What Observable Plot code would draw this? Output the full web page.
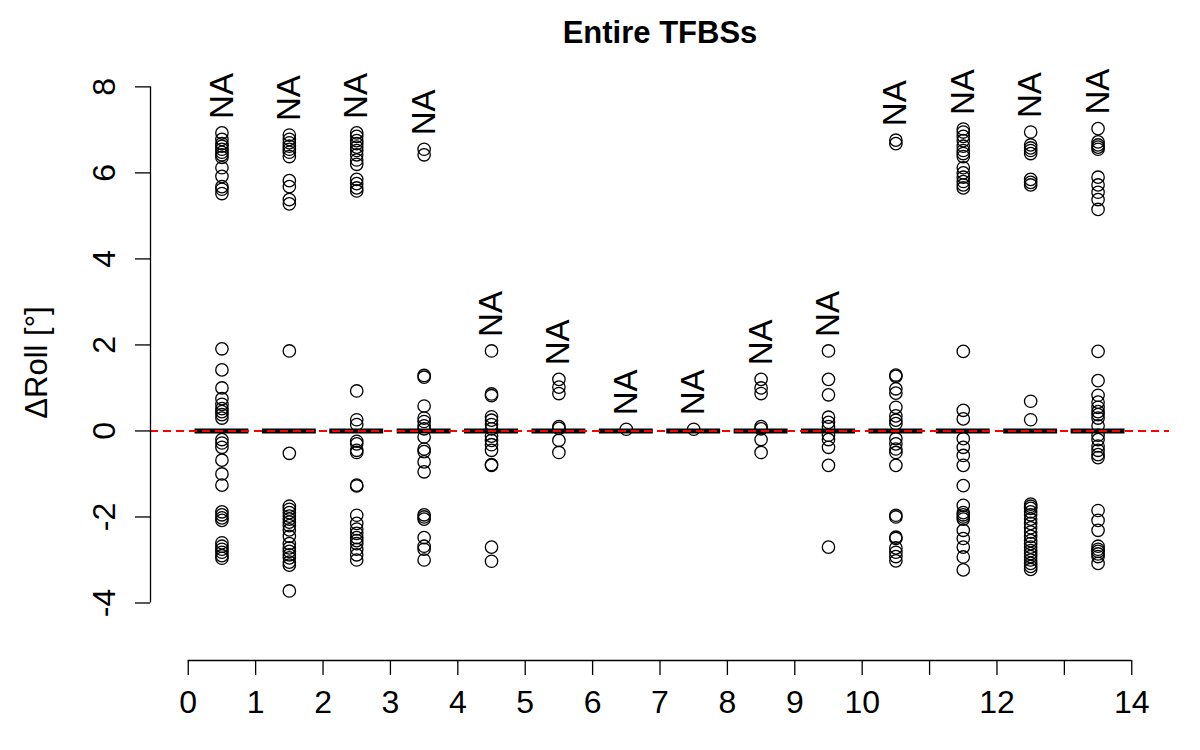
<!DOCTYPE html>
<html>
<head>
<meta charset="utf-8">
<script src="https://cdn.jsdelivr.net/npm/d3@7"></script>
<script src="https://cdn.jsdelivr.net/npm/@observablehq/plot@0.6"></script>
<style>
  html, body { margin: 0; padding: 0; background: #fff; }
  #chart { width: 1200px; height: 750px; }
</style>
</head>
<body>
<div id="chart"></div>
<script>
// ---- data ----
const title = "Entire TFBSs";
const yLabel = "ΔRoll [°]";
const groupPositions = [0.5, 1.5, 2.5, 3.5, 4.5, 5.5, 6.5, 7.5, 8.5, 9.5, 10.5, 11.5, 12.5, 13.5];
const medians = [0, 0, 0, 0, 0, 0, 0, 0, 0, 0, 0, 0, 0, 0];
const naLabels = ["NA", "NA", "NA", "NA", "NA", "NA", "NA", "NA", "NA", "NA", "NA", "NA", "NA", "NA"];
const outliers = [
  [6.93, 6.78, 6.68, 6.62, 6.55, 6.48, 6.42, 6.36, 6.12, 5.92, 5.68, 5.62, 5.52,
   1.91, 1.42, 1.0, 0.75, 0.62, 0.52, 0.45, 0.38, 0.3, -0.2, -0.28, -0.38, -0.68, -1.0, -1.26,
   -1.88, -1.95, -2.02, -2.08, -2.6, -2.68, -2.75, -2.82, -2.9, -2.96],
  [6.88, 6.78, 6.7, 6.62, 6.55, 6.48, 6.38, 5.82, 5.68, 5.38, 5.28,
   1.86, -0.52, -1.75, -1.82, -1.9, -1.98, -2.05, -2.12, -2.2, -2.3, -2.45, -2.62, -2.72, -2.8,
   -2.88, -2.95, -3.05, -3.12, -3.72],
  [6.93, 6.85, 6.75, 6.68, 6.6, 6.52, 6.42, 6.3, 6.2, 5.85, 5.75, 5.65, 5.58,
   0.93, 0.26, 0.15, -0.24, -0.3, -0.45, -0.5, -1.26, -1.28, -1.96, -2.15, -2.28, -2.38, -2.48,
   -2.55, -2.62, -2.75, -2.88, -3.0],
  [6.55, 6.42,
   1.29, 1.25, 0.58, 0.3, 0.22, 0.12, 0.05, -0.14, -0.42, -0.48, -0.72, -0.95, -1.95, -2.0, -2.05,
   -2.48, -2.68, -2.75, -3.0],
  [1.86, 0.86, 0.82, 0.33, 0.25, 0.15, 0.05, -0.12, -0.22, -0.32, -0.45, -0.78, -0.8, -2.7, -3.03],
  [1.2, 1.02, 0.87, 0.1, 0.06, -0.22, -0.5],
  [0.04],
  [0.04],
  [1.2, 1.0, 0.87, 0.1, 0.05, -0.2, -0.5],
  [1.86, 1.2, 0.84, 0.32, 0.2, 0.1, -0.1, -0.2, -0.38, -0.8, -2.7],
  [6.76, 6.68,
   1.3, 1.27, 0.98, 0.88, 0.55, 0.35, 0.25, 0.17, -0.18, -0.3, -0.42, -0.5, -0.8, -1.96, -2.0,
   -2.47, -2.5, -2.72, -2.82, -2.92, -3.02],
  [7.02, 6.95, 6.85, 6.75, 6.62, 6.52, 6.45, 6.38, 6.12, 6.0, 5.9, 5.8, 5.72, 5.65,
   1.85, 0.48, 0.28, -0.18, -0.38, -0.57, -0.8, -1.27, -1.73, -1.9, -1.95, -2.0, -2.05, -2.31,
   -2.5, -2.7, -2.93, -3.23],
  [6.95, 6.65, 6.58, 6.52, 6.45, 5.85, 5.78, 5.72,
   0.69, 0.26, -1.7, -1.75, -1.8, -1.88, -1.95, -2.05, -2.15, -2.25, -2.35, -2.45, -2.55, -2.62,
   -2.7, -2.78, -2.85, -2.92, -3.0, -3.08, -3.15, -3.22],
  [7.03, 6.72, 6.65, 6.6, 6.55, 5.9, 5.72, 5.55, 5.38, 5.15,
   1.85, 1.17, 0.83, 0.67, 0.55, 0.45, 0.38, 0.3, 0.12, -0.1, -0.2, -0.35, -0.45, -0.55, -0.62,
   -1.85, -2.08, -2.31, -2.68, -2.75, -2.8, -2.86, -2.92, -3.08]
];
const xTicks = [0, 1, 2, 3, 4, 5, 6, 7, 8, 9, 10, 11, 12, 13, 14];
const xTickLabels = ["0", "1", "2", "3", "4", "5", "6", "7", "8", "9", "10", "", "12", "", "14"];
const yTicks = [-4, -2, 0, 2, 4, 6, 8];

// ---- derived tables ----
const xDomain = [-0.56, 14.56];
const yDomain = [-5.337, 8.52];
const boxWidth = 0.8;
const dots = outliers.flatMap((vals, i) => vals.map(v => ({x: groupPositions[i], y: v})));
const groups = groupPositions.map((x, i) => ({
  x, median: medians[i], max: d3.max(outliers[i]), label: naLabels[i]
}));

const font = "'Liberation Sans', Arial, Helvetica, sans-serif";

const chart = Plot.plot({
  width: 1200,
  height: 750,
  marginLeft: 150,
  marginRight: 31,
  marginTop: 64,
  marginBottom: 90,
  x: {domain: xDomain},
  y: {domain: yDomain},
  style: {fontFamily: font, background: "#fff", color: "#000", overflow: "visible"},
  marks: [
    // collapsed boxes (median = quartiles = 0)
    Plot.ruleY(groups, {
      y: "median",
      x1: d => d.x - boxWidth / 2,
      x2: d => d.x + boxWidth / 2,
      stroke: "#000",
      strokeWidth: 5
    }),
    // outliers
    Plot.dot(dots, {x: "x", y: "y", r: 6.2, stroke: "#000", strokeWidth: 1.3, fill: "none"}),
    // reference line
    Plot.ruleY([0], {stroke: "#ff0000", strokeWidth: 2, strokeDasharray: "8,5"}),
    // NA labels
    Plot.text(groups, {
      x: "x", y: "max", text: "label",
      rotate: -90, textAnchor: "start", lineAnchor: "middle",
      dy: -14, fontSize: 33, fill: "#000"
    }),
    // y axis
    Plot.ruleX([xDomain[0]], {y1: d3.min(yTicks), y2: d3.max(yTicks), stroke: "#000", strokeWidth: 1.3}),
    Plot.axisY({ticks: yTicks, tickSize: 15, tickFormat: () => "", label: null, strokeWidth: 1.3}),
    Plot.text(yTicks, {
      y: d => d, text: d => String(d), frameAnchor: "left",
      dx: -36, rotate: -90, textAnchor: "middle", lineAnchor: "bottom",
      fontSize: 32, fill: "#000"
    }),
    Plot.text([yLabel], {
      text: d => d, frameAnchor: "left", dx: -104, rotate: -90,
      textAnchor: "middle", lineAnchor: "bottom", fontSize: 31, fill: "#000"
    }),
    // x axis
    Plot.ruleY([yDomain[0]], {x1: d3.min(xTicks), x2: d3.max(xTicks), stroke: "#000", strokeWidth: 1.3}),
    Plot.axisX({
      ticks: xTicks, tickSize: 15, tickPadding: 15,
      tickFormat: d => xTickLabels[xTicks.indexOf(d)],
      label: null, fontSize: 32, strokeWidth: 1.3
    }),
    // title
    Plot.text([title], {
      text: d => d, frameAnchor: "top", dy: -22, lineAnchor: "bottom",
      fontSize: 31, fontWeight: "bold", fill: "#000"
    })
  ]
});

document.getElementById("chart").appendChild(chart);
</script>
</body>
</html>
